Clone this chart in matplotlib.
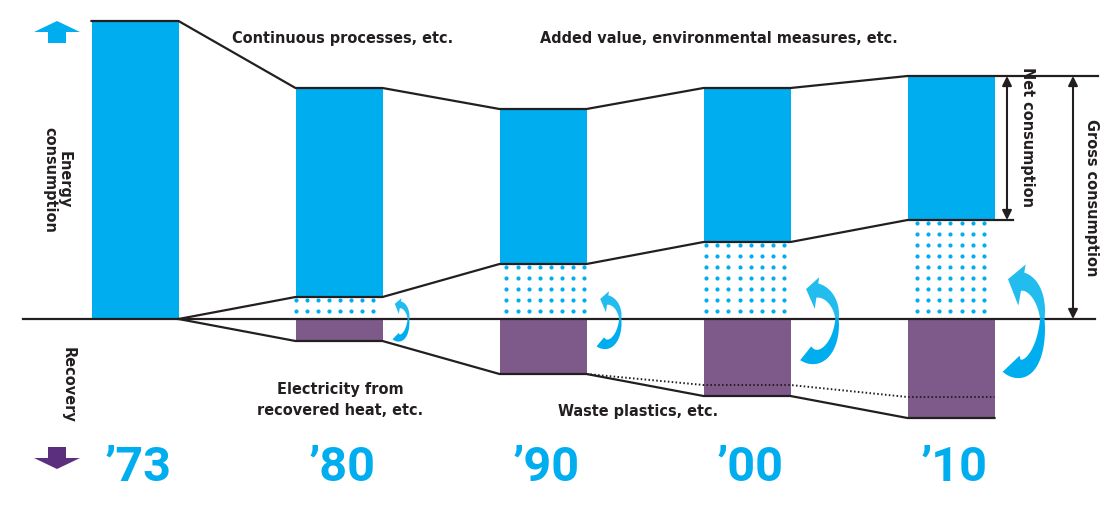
import numpy as np
import matplotlib
matplotlib.use("Agg")
import matplotlib.pyplot as plt
from matplotlib.patches import Rectangle, Polygon, FancyArrow

# data (index units, baseline = 0)
years = ["\u201973", "\u201980", "\u201990", "\u201900", "\u201910"]
gross = [298, 231, 210, 231, 243]          # gross consumption (top of bar)
recovered = [0, 22, 55, 77, 99]            # recovered energy (dotted part / purple part)
waste_plastics = [0, 0, 0, 11, 21]         # waste plastics share of recovery

BLUE = "#00aeef"
LIGHT_BLUE = "#22bdee"
PURPLE = "#7d5a8a"
DARK_PURPLE = "#5b2e7e"
INK = "#231f20"

X0, STEP, WIDTH = 135, 204, 87
ARROW_H = [0, 21, 28, 42, 55]     # half height of the curved arrows
ARROW_RX = [0, 9, 14, 22, 22]     # horizontal radius of the curved arrows
LW = 1.6


def curved_arrow(ax, right, H, rx):
    ry_low, ry_up = 0.9 * H, 0.68 * H
    tail = np.radians(-115)
    xc = right + 11 + 0.1 * H - rx * np.cos(tail)
    t_end = np.radians(84)
    t = np.linspace(tail, t_end, 80)
    ry = np.where(t < 0, ry_low, ry_up)
    px, py = xc + rx * np.cos(t), ry * np.sin(t)
    nx, ny = ry * np.cos(t), rx * np.sin(t)
    norm = np.hypot(nx, ny)
    nx, ny = nx / norm, ny / norm
    w = np.interp(t, [tail, 0, t_end], [0.42 * H, 0.08 * H, 0.34 * H])
    outer = np.column_stack([px + nx * w / 2, py + ny * w / 2])
    inner = np.column_stack([px - nx * w / 2, py - ny * w / 2])
    tx, ty = -rx * np.sin(t_end), ry_up * np.cos(t_end)
    tn = np.hypot(tx, ty)
    tang = np.array([tx, ty]) / tn
    p = np.array([px[-1], py[-1]])
    n = np.array([nx[-1], ny[-1]])
    head_out = p + n * 0.32 * H
    head_in = p - n * 0.44 * H
    tip = p + tang * 0.27 * H
    mid = int(np.searchsorted(t, 0))
    low = np.vstack([outer[: mid + 1], inner[: mid + 1][::-1]])
    high = np.vstack([outer[mid:], head_out, tip, head_in, inner[mid:][::-1]])
    ax.add_patch(Polygon(low, closed=True, facecolor=BLUE, edgecolor="none", zorder=4))
    ax.add_patch(Polygon(high, closed=True, facecolor=LIGHT_BLUE, edgecolor="none", zorder=4))


fig = plt.figure(figsize=(11.13, 5.06), dpi=100)
ax = fig.add_axes([0, 0, 1, 1])
ax.set_xlim(0, 1113)
ax.set_ylim(-186, 320)
ax.axis("off")

n = len(years)
centers = X0 + STEP * np.arange(n)
lefts = centers - WIDTH / 2
rights = centers + WIDTH / 2

# bars
for i in range(n):
    ax.add_patch(Rectangle((lefts[i], recovered[i]), WIDTH, gross[i] - recovered[i],
                           facecolor=BLUE, edgecolor="none", zorder=2))
    if recovered[i] > 0:
        ax.add_patch(Rectangle((lefts[i], -recovered[i]), WIDTH, recovered[i],
                               facecolor=PURPLE, edgecolor="none", zorder=2))

# dotted recovered area
gx = np.arange(lefts[1], rights[-1] + 1, 11.1)
for i in range(1, n):
    xs = gx[(gx >= lefts[i] - 0.5) & (gx <= rights[i])]
    ys = np.arange(8, recovered[i] - 2, 11)
    XX, YY = np.meshgrid(xs, ys)
    ax.scatter(XX.ravel(), YY.ravel(), s=9, color=BLUE, linewidths=0, zorder=2)


def stepped(levels, start=0):
    xs, ys = [], []
    for i in range(start, n):
        xs += [lefts[i], rights[i]]
        ys += [levels[i], levels[i]]
    return xs, ys


# connecting outlines
xs, ys = stepped(gross)
ax.plot(xs + [1098], ys + [gross[-1]], color=INK, lw=LW, zorder=3)
xs, ys = stepped(recovered, 1)
ax.plot([rights[0]] + xs + [1013], [0] + ys + [recovered[-1]], color=INK, lw=LW, zorder=3)
neg = [-r for r in recovered]
xs, ys = stepped(neg, 1)
ax.plot([rights[0]] + xs, [0] + ys, color=INK, lw=LW, zorder=3)
other = [-(r - w) for r, w in zip(recovered, waste_plastics)]
xs, ys = stepped(other, 3)
ax.plot([rights[2]] + xs, [other[2]] + ys, color=INK, lw=1.4,
        linestyle=(0, (0.8, 1.2)), zorder=3)
ax.plot([23, 1095], [0, 0], color=INK, lw=LW, zorder=3)

# curved recovery arrows
for i in range(1, n):
    curved_arrow(ax, rights[i], ARROW_H[i], ARROW_RX[i])

# net / gross brackets
arrow_kw = dict(arrowstyle="<|-|>", color=INK, lw=1.5, mutation_scale=14, shrinkA=0, shrinkB=0)
ax.annotate("", xy=(1007, gross[-1]), xytext=(1007, recovered[-1]), arrowprops=arrow_kw)
ax.annotate("", xy=(1073, gross[-1]), xytext=(1073, 0), arrowprops=arrow_kw)

label_kw = dict(family="DejaVu Sans", fontstretch="condensed", fontweight="bold",
                fontsize=11.6, color=INK)
ax.text(1028, (gross[-1] + recovered[-1]) / 2 + 12, "Net consumption", rotation=270,
        ha="center", va="center", **label_kw)
ax.text(1092, gross[-1] / 2 + 1, "Gross consumption", rotation=270,
        ha="center", va="center", **label_kw)
ax.text(57, 140, "Energy\nconsumption", rotation=270, ha="center", va="center",
        linespacing=1.0, **label_kw)
ax.text(68, -65, "Recovery", rotation=270, ha="center", va="center", **label_kw)
ax.text(232, 282, "Continuous processes, etc.", ha="left", va="center", **label_kw)
ax.text(540, 282, "Added value, environmental measures, etc.", ha="left", va="center", **label_kw)
ax.text(340, -80, "Electricity from\nrecovered heat, etc.", ha="center", va="center",
        linespacing=1.5, **label_kw)
ax.text(638, -92, "Waste plastics, etc.", ha="center", va="center", **label_kw)

# side arrows
ax.add_patch(FancyArrow(57, 276, 0, 22, width=18, head_width=46, head_length=11,
                        length_includes_head=True, color=BLUE, lw=0))
ax.add_patch(FancyArrow(57, -128, 0, -22, width=18, head_width=46, head_length=11,
                        length_includes_head=True, color=DARK_PURPLE, lw=0))

# year labels
for i in range(n):
    ax.text(centers[i] + 3, -148, years[i], ha="center", va="center",
            family=["Roboto", "DejaVu Sans"], fontweight="bold", fontsize=35, color=BLUE)

fig.savefig("out.png", dpi=100)
